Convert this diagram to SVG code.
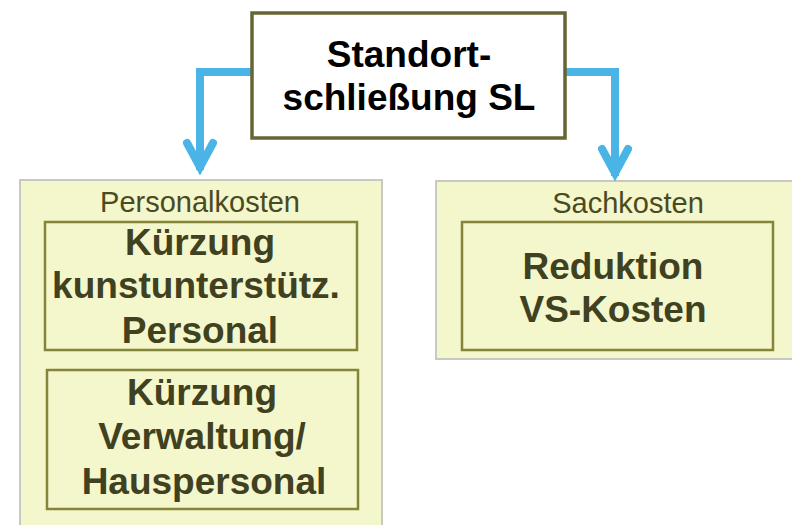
<svg xmlns="http://www.w3.org/2000/svg" width="792" height="525" viewBox="0 0 792 525">
<style>
.panel{fill:#f4f6cc;stroke:#c9c9c4;stroke-width:2}
.inner{fill:#f4f6cc;stroke:#85853a;stroke-width:2.5}
.top{fill:#ffffff;stroke:#676534;stroke-width:3.5}
.hdr{font-family:"Liberation Sans",Arial,sans-serif;font-size:29px;fill:#4a4a22;text-anchor:middle}
.big{font-family:"Liberation Sans",Arial,sans-serif;font-size:37px;font-weight:bold;fill:#3f4120;text-anchor:middle}
.title{font-family:"Liberation Sans",Arial,sans-serif;font-size:37px;font-weight:bold;fill:#000;text-anchor:middle}
.conn{fill:none;stroke:#4bb4e6;stroke-width:8;stroke-linejoin:miter;stroke-linecap:butt}
.head{fill:none;stroke:#4bb4e6;stroke-width:8;stroke-linecap:round;stroke-linejoin:miter}
</style>
<g id="panel-personal">
<rect class="panel" x="20" y="180" width="362" height="360"/>
<text class="hdr" x="200" y="212">Personalkosten</text>
</g>
<g id="panel-sach">
<rect class="panel" x="436" y="181" width="370" height="178"/>
<text class="hdr" x="628" y="213">Sachkosten</text>
</g>
<g id="node-kuerzung1">
<rect class="inner" x="45" y="222" width="312" height="128"/>
<text class="big" x="200" y="255">Kürzung</text>
<text class="big" x="196" y="298">kunstunterstütz.</text>
<text class="big" x="200" y="343">Personal</text>
</g>
<g id="node-kuerzung2">
<rect class="inner" x="47" y="370" width="311" height="139"/>
<text class="big" x="202" y="405">Kürzung</text>
<text class="big" x="202" y="449">Verwaltung/</text>
<text class="big" x="204" y="494">Hauspersonal</text>
</g>
<g id="node-reduktion">
<rect class="inner" x="462" y="222" width="311" height="128"/>
<text class="big" x="613" y="279">Reduktion</text>
<text class="big" x="613" y="322">VS-Kosten</text>
</g>
<g id="connectors">
<path class="conn" d="M252,72 H200 V170"/>
<path class="head" d="M187,143 L200,167 L213,143"/>
<path class="conn" d="M565,72 H615 V176"/>
<path class="head" d="M602,149 L615,173 L628,149"/>
</g>
<g id="node-top">
<rect class="top" x="252" y="13" width="313" height="125"/>
<text class="title" x="409" y="67">Standort-</text>
<text class="title" x="409" y="110">schließung SL</text>
</g>
</svg>
